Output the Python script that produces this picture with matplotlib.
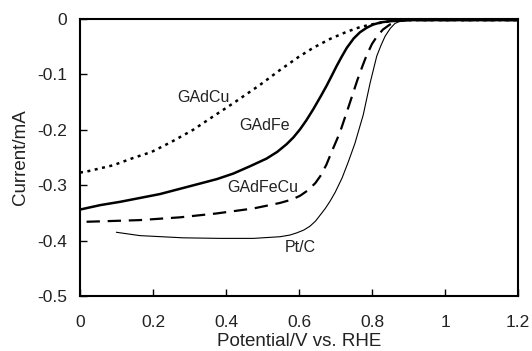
import matplotlib
matplotlib.use("Agg")
import matplotlib.pyplot as plt

plt.rcParams['font.family'] = ['Liberation Sans', 'DejaVu Sans']

# GAdCu (dotted)
cu_x = [0.0, 0.014, 0.091, 0.145, 0.196, 0.25, 0.31, 0.36, 0.42, 0.493, 0.548, 0.60, 0.639, 0.685, 0.731, 0.77, 0.813, 0.85, 0.88, 1.0, 1.1, 1.2]
cu_y = [-0.277, -0.276, -0.264, -0.251, -0.240, -0.222, -0.200, -0.178, -0.152, -0.119, -0.092, -0.068, -0.052, -0.036, -0.023, -0.014, -0.008, -0.004, -0.002, -0.002, -0.002, -0.002]

# GAdFe (thick solid)
fe_x = [0.0, 0.055, 0.11, 0.219, 0.329, 0.375, 0.42, 0.465, 0.511, 0.54, 0.566, 0.585, 0.603, 0.62, 0.639, 0.66, 0.676, 0.69, 0.703, 0.717, 0.731, 0.75, 0.767, 0.785, 0.803, 0.825, 0.849, 0.9, 1.0, 1.1, 1.2]
fe_y = [-0.344, -0.336, -0.330, -0.316, -0.297, -0.289, -0.279, -0.266, -0.252, -0.240, -0.226, -0.2135, -0.199, -0.183, -0.163, -0.139, -0.120, -0.102, -0.085, -0.068, -0.052, -0.035, -0.024, -0.016, -0.010, -0.006, -0.004, -0.002, -0.002, -0.002, -0.002]

# GAdFeCu (dashed)
fecu_x = [0.018, 0.068, 0.164, 0.274, 0.374, 0.475, 0.548, 0.58, 0.603, 0.625, 0.645, 0.66, 0.675, 0.69, 0.712, 0.735, 0.76, 0.775, 0.785, 0.80, 0.813, 0.83, 0.849, 0.87, 0.9, 1.0, 1.1, 1.2]
fecu_y = [-0.366, -0.365, -0.363, -0.358, -0.351, -0.342, -0.332, -0.326, -0.319, -0.309, -0.296, -0.282, -0.263, -0.239, -0.205, -0.160, -0.110, -0.083, -0.066, -0.045, -0.032, -0.019, -0.010, -0.004, -0.002, -0.002, -0.002, -0.002]

# Pt/C (thin solid)
pt_x = [0.10, 0.164, 0.283, 0.384, 0.475, 0.548, 0.575, 0.594, 0.613, 0.630, 0.645, 0.658, 0.672, 0.685, 0.699, 0.718, 0.735, 0.753, 0.776, 0.795, 0.813, 0.825, 0.836, 0.85, 0.863, 0.88, 0.9, 1.0, 1.1, 1.2]
pt_y = [-0.385, -0.391, -0.395, -0.396, -0.396, -0.393, -0.390, -0.386, -0.381, -0.374, -0.365, -0.354, -0.342, -0.329, -0.313, -0.287, -0.258, -0.225, -0.173, -0.115, -0.067, -0.047, -0.031, -0.017, -0.008, -0.003, -0.002, -0.002, -0.002, -0.002]

labels = ["GAdCu", "GAdFe", "GAdFeCu", "Pt/C"]
label_x = [0.337, 0.507, 0.50, 0.603]
label_y = [-0.141, -0.193, -0.305, -0.413]

x_ticks = [0, 0.2, 0.4, 0.6, 0.8, 1.0, 1.2]
x_tick_labels = ["0", "0.2", "0.4", "0.6", "0.8", "1", "1.2"]
y_ticks = [0, -0.1, -0.2, -0.3, -0.4, -0.5]
y_tick_labels = ["0", "-0.1", "-0.2", "-0.3", "-0.4", "-0.5"]

fig = plt.figure(figsize=(5.32, 3.51), dpi=100)
ax = fig.add_axes([80/532, 1 - 296/351, 438/532, 277/351])

ax.plot(cu_x, cu_y, color='black', lw=1.8, linestyle=(0, (1.2, 1.8)))
ax.plot(fe_x, fe_y, color='black', lw=1.8, linestyle='-')
ax.plot(fecu_x, fecu_y, color='black', lw=1.6, linestyle=(0, (6, 3.5)))
ax.plot(pt_x, pt_y, color='black', lw=0.8, linestyle='-')

for t, lx, ly in zip(labels, label_x, label_y):
    ax.text(lx, ly, t, fontsize=11.5, ha='center', va='center', color='#222222')

ax.set_xlim(0, 1.2)
ax.set_ylim(-0.5, 0)
ax.set_xticks(x_ticks)
ax.set_xticklabels(x_tick_labels)
ax.set_yticks(y_ticks)
ax.set_yticklabels(y_tick_labels)
ax.tick_params(direction='in', length=5, width=1, labelsize=12.5, top=False, right=False, labelcolor='#222222')
ax.tick_params(axis='x', pad=14)
ax.tick_params(axis='y', pad=9)
for s in ax.spines.values():
    s.set_linewidth(1.5)
ax.set_xlabel("Potential/V vs. RHE", fontsize=13.5, labelpad=2, color='#222222')
ax.set_ylabel("Current/mA", fontsize=13.5, labelpad=6, color='#222222')

fig.savefig("out.png", dpi=100)
